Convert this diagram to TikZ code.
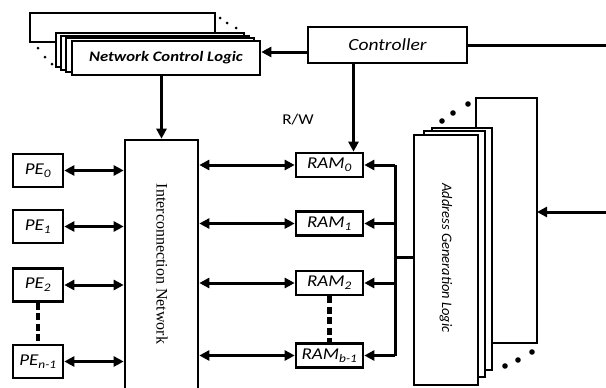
\documentclass[tikz,border=0pt]{standalone}
\usepackage{fontspec}
\setmainfont{Carlito}
\newfontfamily\widesans[FakeStretch=1.15]{Carlito}
\newfontfamily\serifnet{Liberation Serif}
\usepackage{tikz}
\usetikzlibrary{arrows.meta, positioning}

\newcommand{\lbl}[2]{\textit{#1\textsubscript{#2}}}

\begin{document}
\begin{tikzpicture}[
    x=1pt, y=-1pt,
    blk/.style={draw, rectangle, line width=2.6pt, fill=white, inner sep=0pt},
    pebox/.style={blk, minimum width=50pt, minimum height=33pt, font=\widesans\fontsize{16.5}{17}\selectfont},
    rambox/.style={blk, minimum width=67pt, minimum height=24pt, font=\widesans\fontsize{16.5}{17}\selectfont},
    sheet/.style={draw, line width=2.6pt, fill=white},
    arr/.style={line width=3pt, -{Triangle[length=10pt,width=10pt]}},
    darr/.style={line width=3pt, {Triangle[length=10pt,width=10pt]}-{Triangle[length=10pt,width=10pt]}},
    wire/.style={line width=3pt},
    gap/.style={line width=4.5pt, dash pattern=on 7pt off 3.5pt},
    dot/.style={fill=black}
]
\useasboundingbox (0,0) rectangle (606,388);
\clip (0,0) rectangle (606,388);

%% Network control logic (stacked copies)
\draw[sheet] (30,13) rectangle (215,42);
\fill[dot] (220,18) circle (1.5) (227,23) circle (1.5) (236,28) circle (1.5);
\fill[dot] (38,48) circle (1.5) (45,57) circle (1.5) (52,64) circle (1.5);
\draw[sheet] (56,33) rectangle (244,67);
\draw[sheet] (61,36) rectangle (249,70);
\draw[sheet] (66,38) rectangle (254,72);
\node[blk, minimum width=188pt, minimum height=34pt,
      font=\widesans\fontsize{14.5}{16}\selectfont\bfseries\itshape] (ncl) at (166,58) {Network Control Logic};

%% Controller
\node[blk, minimum width=159pt, minimum height=36pt,
      font=\widesans\fontsize{17}{18}\selectfont\itshape] (ctrl) at (387.5,45) {Controller};
\coordinate (cout) at (606,45);
\draw[wire] (ctrl.east) -- (cout);
\draw[arr] ([yshift=-7pt]ctrl.west) -- ([yshift=-7pt]ctrl.west -| ncl.east);

%% Interconnection network
\node[blk, minimum width=73pt, minimum height=262pt] (icn) at (161.5,271) {};
\node[rotate=-90, font=\serifnet\fontsize{16}{17}\selectfont] (icnlbl) at (162,264) {Interconnection Network};
\draw[arr] (icn.north |- ncl.south) -- (icn.north);

%% Processing elements
\node[pebox] (pe0) at (38,170.5) {\lbl{PE}{0}};
\node[pebox] (pe1) at (38,226.5) {\lbl{PE}{1}};
\node[pebox] (pe2) at (38,285) {\lbl{PE}{2}};
\node[pebox] (pen) at (38,361.5) {\lbl{PE}{n-1}};
\draw[gap] (pe2.south) -- (pen.north);
\foreach \p in {pe0, pe1, pe2, pen}
    \draw[darr] (\p.east) -- (\p.east -| icn.west);

%% Memory banks
\node[rambox] (ram0) at (329.5,165) {\lbl{RAM}{0}};
\node[rambox] (ram1) at (329.5,223.5) {\lbl{RAM}{1}};
\node[rambox] (ram2) at (329.5,283) {\lbl{RAM}{2}};
\node[rambox] (ramb) at (329.5,355.5) {\lbl{RAM}{b-1}};
\draw[gap] (ram2.south) -- (ramb.north);
\foreach \r in {ram0, ram1, ram2, ramb}
    \draw[darr] (\r.west -| icn.east) -- (\r.west);

\node[font=\widesans\fontsize{15}{16}\selectfont] (rw) at (298,120) {R/W};
\draw[arr] ([xshift=-34pt]ctrl.south) -- ([xshift=-34pt]ctrl.south |- ram0.north);

%% Address generation logic (stacked copies)
\draw[sheet] (476,98) rectangle (537,343);
\fill[dot] (442,121) circle (2.8) (453,113) circle (2.8) (468,104) circle (2.8);
\fill[dot] (505,366) circle (2.8) (518,360) circle (2.8) (532,352) circle (2.8);
\draw[sheet] (432,128) rectangle (492,370);
\draw[sheet] (424,131) rectangle (485,377);
\node[blk, minimum width=64pt, minimum height=250pt] (agl) at (446,260) {};
\node[rotate=-90, font=\fontsize{14.5}{16}\selectfont\itshape] (agllbl) at (446,258) {Address Generation Logic};
\coordinate (ain) at (606,212);
\draw[arr] (ain) -- (537,212);

%% Address bus to the banks
\coordinate (bus) at (395,257);
\draw[wire] (bus |- ram0.east) -- (bus |- ramb.east);
\draw[wire] (bus) -- (agl.west |- bus);
\foreach \r in {ram0, ram1, ram2, ramb}
    \draw[arr] (\r.east -| bus) -- (\r.east);
\end{tikzpicture}
\end{document}
